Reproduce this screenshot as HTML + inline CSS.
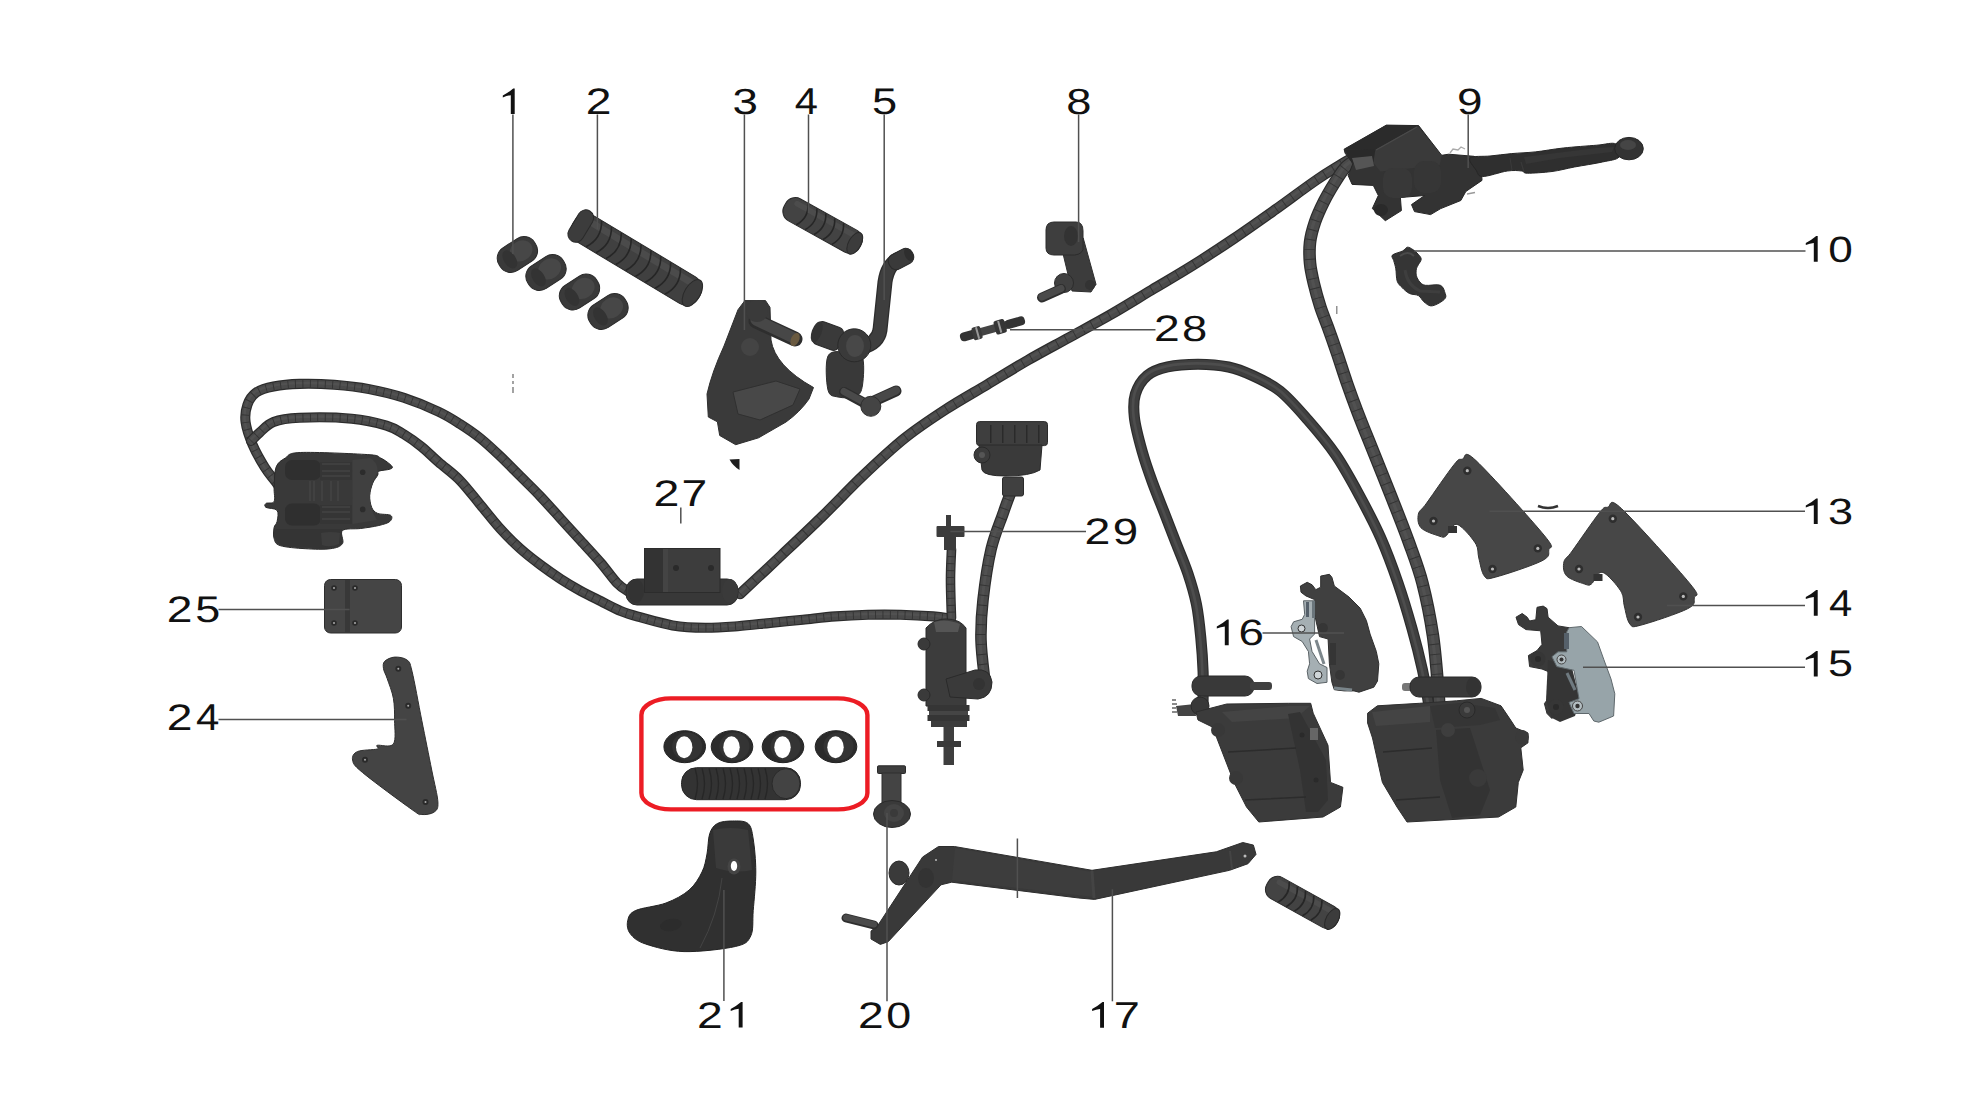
<!DOCTYPE html>
<html><head><meta charset="utf-8"><style>
html,body{margin:0;padding:0;background:#fff;width:1965px;height:1093px;overflow:hidden}
svg{position:absolute;left:0;top:0;display:block}
text{font-family:"Liberation Sans",sans-serif;text-rendering:geometricPrecision}
</style></head><body>
<svg width="1965" height="1093" viewBox="0 0 1965 1093">
<rect width="1965" height="1093" fill="#fff"/>
<path d="M284.0,494.0 C282.5,491.9 278.4,485.7 275.2,481.3 C272.0,476.9 268.6,473.5 264.8,467.4 C261.0,461.3 255.8,452.3 252.6,444.8 C249.4,437.3 246.5,428.9 245.6,422.2 C244.7,415.5 245.7,409.7 247.4,404.8 C249.1,399.9 251.7,395.7 256.0,392.6 C260.4,389.6 266.2,387.9 273.5,386.5 C280.8,385.1 289.4,384.2 299.5,383.9 C309.6,383.6 322.7,383.9 334.3,384.8 C345.9,385.7 357.5,386.9 369.1,389.1 C380.7,391.3 392.3,394.0 403.9,397.8 C415.5,401.6 429.2,407.3 438.6,411.7 C448.0,416.1 453.1,419.6 460.0,424.0 C466.9,428.4 473.4,432.7 480.1,438.1 C486.8,443.5 493.5,449.8 500.2,456.2 C506.9,462.6 513.7,469.6 520.4,476.3 C527.1,483.0 533.8,489.4 540.5,496.5 C547.2,503.6 553.9,511.2 560.6,518.6 C567.3,526.0 574.0,533.3 580.7,540.7 C587.4,548.1 594.8,555.9 600.8,562.9 C606.8,569.9 612.3,578.1 617.0,583.0 C621.7,587.9 627.0,590.5 629.0,592.0" fill="none" stroke="#2c2c2c" stroke-width="10.1" stroke-linecap="round" stroke-linejoin="round"/><path d="M284.0,494.0 C282.5,491.9 278.4,485.7 275.2,481.3 C272.0,476.9 268.6,473.5 264.8,467.4 C261.0,461.3 255.8,452.3 252.6,444.8 C249.4,437.3 246.5,428.9 245.6,422.2 C244.7,415.5 245.7,409.7 247.4,404.8 C249.1,399.9 251.7,395.7 256.0,392.6 C260.4,389.6 266.2,387.9 273.5,386.5 C280.8,385.1 289.4,384.2 299.5,383.9 C309.6,383.6 322.7,383.9 334.3,384.8 C345.9,385.7 357.5,386.9 369.1,389.1 C380.7,391.3 392.3,394.0 403.9,397.8 C415.5,401.6 429.2,407.3 438.6,411.7 C448.0,416.1 453.1,419.6 460.0,424.0 C466.9,428.4 473.4,432.7 480.1,438.1 C486.8,443.5 493.5,449.8 500.2,456.2 C506.9,462.6 513.7,469.6 520.4,476.3 C527.1,483.0 533.8,489.4 540.5,496.5 C547.2,503.6 553.9,511.2 560.6,518.6 C567.3,526.0 574.0,533.3 580.7,540.7 C587.4,548.1 594.8,555.9 600.8,562.9 C606.8,569.9 612.3,578.1 617.0,583.0 C621.7,587.9 627.0,590.5 629.0,592.0" fill="none" stroke="#4a4a4a" stroke-width="7.7" stroke-linecap="round" stroke-linejoin="round"/><path d="M284.0,494.0 C282.5,491.9 278.4,485.7 275.2,481.3 C272.0,476.9 268.6,473.5 264.8,467.4 C261.0,461.3 255.8,452.3 252.6,444.8 C249.4,437.3 246.5,428.9 245.6,422.2 C244.7,415.5 245.7,409.7 247.4,404.8 C249.1,399.9 251.7,395.7 256.0,392.6 C260.4,389.6 266.2,387.9 273.5,386.5 C280.8,385.1 289.4,384.2 299.5,383.9 C309.6,383.6 322.7,383.9 334.3,384.8 C345.9,385.7 357.5,386.9 369.1,389.1 C380.7,391.3 392.3,394.0 403.9,397.8 C415.5,401.6 429.2,407.3 438.6,411.7 C448.0,416.1 453.1,419.6 460.0,424.0 C466.9,428.4 473.4,432.7 480.1,438.1 C486.8,443.5 493.5,449.8 500.2,456.2 C506.9,462.6 513.7,469.6 520.4,476.3 C527.1,483.0 533.8,489.4 540.5,496.5 C547.2,503.6 553.9,511.2 560.6,518.6 C567.3,526.0 574.0,533.3 580.7,540.7 C587.4,548.1 594.8,555.9 600.8,562.9 C606.8,569.9 612.3,578.1 617.0,583.0 C621.7,587.9 627.0,590.5 629.0,592.0" fill="none" stroke="#575757" stroke-width="2.4" stroke-linecap="round" opacity="0.6" transform="translate(-0.8,-0.8)"/><path d="M284.0,494.0 C282.5,491.9 278.4,485.7 275.2,481.3 C272.0,476.9 268.6,473.5 264.8,467.4 C261.0,461.3 255.8,452.3 252.6,444.8 C249.4,437.3 246.5,428.9 245.6,422.2 C244.7,415.5 245.7,409.7 247.4,404.8 C249.1,399.9 251.7,395.7 256.0,392.6 C260.4,389.6 266.2,387.9 273.5,386.5 C280.8,385.1 289.4,384.2 299.5,383.9 C309.6,383.6 322.7,383.9 334.3,384.8 C345.9,385.7 357.5,386.9 369.1,389.1 C380.7,391.3 392.3,394.0 403.9,397.8 C415.5,401.6 429.2,407.3 438.6,411.7 C448.0,416.1 453.1,419.6 460.0,424.0 C466.9,428.4 473.4,432.7 480.1,438.1 C486.8,443.5 493.5,449.8 500.2,456.2 C506.9,462.6 513.7,469.6 520.4,476.3 C527.1,483.0 533.8,489.4 540.5,496.5 C547.2,503.6 553.9,511.2 560.6,518.6 C567.3,526.0 574.0,533.3 580.7,540.7 C587.4,548.1 594.8,555.9 600.8,562.9 C606.8,569.9 612.3,578.1 617.0,583.0 C621.7,587.9 627.0,590.5 629.0,592.0" fill="none" stroke="#333" stroke-width="8.5" stroke-dasharray="0.9 6.5"/><path d="M251.0,441.0 C252.4,439.6 255.9,435.8 259.6,432.6 C263.4,429.4 266.9,424.5 273.5,422.0 C280.1,419.5 286.5,418.4 299.5,417.8 C312.5,417.2 337.2,417.4 351.7,418.7 C366.2,420.0 377.8,423.0 386.5,425.6 C395.2,428.2 398.1,430.8 403.9,434.3 C409.7,437.8 415.4,441.9 421.2,446.5 C427.0,451.1 432.1,456.5 438.6,462.1 C445.1,467.8 453.1,473.3 460.0,480.4 C466.9,487.5 473.4,496.4 480.1,504.5 C486.8,512.5 493.5,521.3 500.2,528.7 C506.9,536.1 513.7,542.8 520.4,548.8 C527.1,554.8 533.8,559.9 540.5,564.9 C547.2,569.9 553.9,574.6 560.6,579.0 C567.3,583.4 574.0,587.3 580.7,591.0 C587.4,594.7 594.1,597.8 600.8,601.1 C607.5,604.5 614.5,608.4 621.0,611.1 C627.5,613.8 631.4,614.8 640.0,617.2 C648.6,619.6 661.8,623.6 672.6,625.4 C683.5,627.2 694.2,627.7 705.1,627.8 C716.0,627.9 726.8,627.0 737.7,626.2 C748.6,625.4 759.4,624.0 770.3,622.9 C781.2,621.8 792.0,620.8 802.9,619.7 C813.8,618.6 824.5,617.2 835.4,616.4 C846.2,615.6 857.1,615.1 868.0,614.8 C878.9,614.5 889.7,614.5 900.6,614.8 C911.5,615.1 925.0,615.8 933.2,616.4 C941.4,617.0 947.2,618.1 950.0,618.5" fill="none" stroke="#2c2c2c" stroke-width="10.1" stroke-linecap="round" stroke-linejoin="round"/><path d="M251.0,441.0 C252.4,439.6 255.9,435.8 259.6,432.6 C263.4,429.4 266.9,424.5 273.5,422.0 C280.1,419.5 286.5,418.4 299.5,417.8 C312.5,417.2 337.2,417.4 351.7,418.7 C366.2,420.0 377.8,423.0 386.5,425.6 C395.2,428.2 398.1,430.8 403.9,434.3 C409.7,437.8 415.4,441.9 421.2,446.5 C427.0,451.1 432.1,456.5 438.6,462.1 C445.1,467.8 453.1,473.3 460.0,480.4 C466.9,487.5 473.4,496.4 480.1,504.5 C486.8,512.5 493.5,521.3 500.2,528.7 C506.9,536.1 513.7,542.8 520.4,548.8 C527.1,554.8 533.8,559.9 540.5,564.9 C547.2,569.9 553.9,574.6 560.6,579.0 C567.3,583.4 574.0,587.3 580.7,591.0 C587.4,594.7 594.1,597.8 600.8,601.1 C607.5,604.5 614.5,608.4 621.0,611.1 C627.5,613.8 631.4,614.8 640.0,617.2 C648.6,619.6 661.8,623.6 672.6,625.4 C683.5,627.2 694.2,627.7 705.1,627.8 C716.0,627.9 726.8,627.0 737.7,626.2 C748.6,625.4 759.4,624.0 770.3,622.9 C781.2,621.8 792.0,620.8 802.9,619.7 C813.8,618.6 824.5,617.2 835.4,616.4 C846.2,615.6 857.1,615.1 868.0,614.8 C878.9,614.5 889.7,614.5 900.6,614.8 C911.5,615.1 925.0,615.8 933.2,616.4 C941.4,617.0 947.2,618.1 950.0,618.5" fill="none" stroke="#4a4a4a" stroke-width="7.7" stroke-linecap="round" stroke-linejoin="round"/><path d="M251.0,441.0 C252.4,439.6 255.9,435.8 259.6,432.6 C263.4,429.4 266.9,424.5 273.5,422.0 C280.1,419.5 286.5,418.4 299.5,417.8 C312.5,417.2 337.2,417.4 351.7,418.7 C366.2,420.0 377.8,423.0 386.5,425.6 C395.2,428.2 398.1,430.8 403.9,434.3 C409.7,437.8 415.4,441.9 421.2,446.5 C427.0,451.1 432.1,456.5 438.6,462.1 C445.1,467.8 453.1,473.3 460.0,480.4 C466.9,487.5 473.4,496.4 480.1,504.5 C486.8,512.5 493.5,521.3 500.2,528.7 C506.9,536.1 513.7,542.8 520.4,548.8 C527.1,554.8 533.8,559.9 540.5,564.9 C547.2,569.9 553.9,574.6 560.6,579.0 C567.3,583.4 574.0,587.3 580.7,591.0 C587.4,594.7 594.1,597.8 600.8,601.1 C607.5,604.5 614.5,608.4 621.0,611.1 C627.5,613.8 631.4,614.8 640.0,617.2 C648.6,619.6 661.8,623.6 672.6,625.4 C683.5,627.2 694.2,627.7 705.1,627.8 C716.0,627.9 726.8,627.0 737.7,626.2 C748.6,625.4 759.4,624.0 770.3,622.9 C781.2,621.8 792.0,620.8 802.9,619.7 C813.8,618.6 824.5,617.2 835.4,616.4 C846.2,615.6 857.1,615.1 868.0,614.8 C878.9,614.5 889.7,614.5 900.6,614.8 C911.5,615.1 925.0,615.8 933.2,616.4 C941.4,617.0 947.2,618.1 950.0,618.5" fill="none" stroke="#575757" stroke-width="2.4" stroke-linecap="round" opacity="0.6" transform="translate(-0.8,-0.8)"/><path d="M251.0,441.0 C252.4,439.6 255.9,435.8 259.6,432.6 C263.4,429.4 266.9,424.5 273.5,422.0 C280.1,419.5 286.5,418.4 299.5,417.8 C312.5,417.2 337.2,417.4 351.7,418.7 C366.2,420.0 377.8,423.0 386.5,425.6 C395.2,428.2 398.1,430.8 403.9,434.3 C409.7,437.8 415.4,441.9 421.2,446.5 C427.0,451.1 432.1,456.5 438.6,462.1 C445.1,467.8 453.1,473.3 460.0,480.4 C466.9,487.5 473.4,496.4 480.1,504.5 C486.8,512.5 493.5,521.3 500.2,528.7 C506.9,536.1 513.7,542.8 520.4,548.8 C527.1,554.8 533.8,559.9 540.5,564.9 C547.2,569.9 553.9,574.6 560.6,579.0 C567.3,583.4 574.0,587.3 580.7,591.0 C587.4,594.7 594.1,597.8 600.8,601.1 C607.5,604.5 614.5,608.4 621.0,611.1 C627.5,613.8 631.4,614.8 640.0,617.2 C648.6,619.6 661.8,623.6 672.6,625.4 C683.5,627.2 694.2,627.7 705.1,627.8 C716.0,627.9 726.8,627.0 737.7,626.2 C748.6,625.4 759.4,624.0 770.3,622.9 C781.2,621.8 792.0,620.8 802.9,619.7 C813.8,618.6 824.5,617.2 835.4,616.4 C846.2,615.6 857.1,615.1 868.0,614.8 C878.9,614.5 889.7,614.5 900.6,614.8 C911.5,615.1 925.0,615.8 933.2,616.4 C941.4,617.0 947.2,618.1 950.0,618.5" fill="none" stroke="#333" stroke-width="8.5" stroke-dasharray="0.9 6.5"/><path d="M740.0,594.0 C746.9,587.6 767.5,568.4 781.2,555.5 C794.9,542.6 808.6,529.8 822.3,516.4 C836.0,503.0 849.8,488.2 863.5,475.2 C877.2,462.2 891.0,449.2 904.7,438.2 C918.4,427.2 932.1,418.3 945.8,409.4 C959.5,400.5 973.3,392.9 987.0,384.7 C1000.7,376.5 1014.5,367.9 1028.2,360.0 C1041.9,352.1 1055.7,344.9 1069.4,337.3 C1083.1,329.8 1096.8,322.6 1110.5,314.7 C1124.2,306.8 1138.0,298.2 1151.7,290.0 C1165.4,281.8 1179.2,273.9 1192.9,265.3 C1206.6,256.7 1220.3,247.8 1234.0,238.5 C1247.7,229.2 1261.5,219.4 1275.2,209.7 C1288.9,199.9 1305.6,187.4 1316.4,180.0 C1327.2,172.6 1334.1,168.7 1340.0,165.0 C1345.9,161.3 1350.0,159.2 1352.0,158.0" fill="none" stroke="#2c2c2c" stroke-width="10.6" stroke-linecap="round" stroke-linejoin="round"/><path d="M740.0,594.0 C746.9,587.6 767.5,568.4 781.2,555.5 C794.9,542.6 808.6,529.8 822.3,516.4 C836.0,503.0 849.8,488.2 863.5,475.2 C877.2,462.2 891.0,449.2 904.7,438.2 C918.4,427.2 932.1,418.3 945.8,409.4 C959.5,400.5 973.3,392.9 987.0,384.7 C1000.7,376.5 1014.5,367.9 1028.2,360.0 C1041.9,352.1 1055.7,344.9 1069.4,337.3 C1083.1,329.8 1096.8,322.6 1110.5,314.7 C1124.2,306.8 1138.0,298.2 1151.7,290.0 C1165.4,281.8 1179.2,273.9 1192.9,265.3 C1206.6,256.7 1220.3,247.8 1234.0,238.5 C1247.7,229.2 1261.5,219.4 1275.2,209.7 C1288.9,199.9 1305.6,187.4 1316.4,180.0 C1327.2,172.6 1334.1,168.7 1340.0,165.0 C1345.9,161.3 1350.0,159.2 1352.0,158.0" fill="none" stroke="#4a4a4a" stroke-width="8.2" stroke-linecap="round" stroke-linejoin="round"/><path d="M740.0,594.0 C746.9,587.6 767.5,568.4 781.2,555.5 C794.9,542.6 808.6,529.8 822.3,516.4 C836.0,503.0 849.8,488.2 863.5,475.2 C877.2,462.2 891.0,449.2 904.7,438.2 C918.4,427.2 932.1,418.3 945.8,409.4 C959.5,400.5 973.3,392.9 987.0,384.7 C1000.7,376.5 1014.5,367.9 1028.2,360.0 C1041.9,352.1 1055.7,344.9 1069.4,337.3 C1083.1,329.8 1096.8,322.6 1110.5,314.7 C1124.2,306.8 1138.0,298.2 1151.7,290.0 C1165.4,281.8 1179.2,273.9 1192.9,265.3 C1206.6,256.7 1220.3,247.8 1234.0,238.5 C1247.7,229.2 1261.5,219.4 1275.2,209.7 C1288.9,199.9 1305.6,187.4 1316.4,180.0 C1327.2,172.6 1334.1,168.7 1340.0,165.0 C1345.9,161.3 1350.0,159.2 1352.0,158.0" fill="none" stroke="#575757" stroke-width="2.6" stroke-linecap="round" opacity="0.6" transform="translate(-0.8,-0.8)"/><path d="M740.0,594.0 C746.9,587.6 767.5,568.4 781.2,555.5 C794.9,542.6 808.6,529.8 822.3,516.4 C836.0,503.0 849.8,488.2 863.5,475.2 C877.2,462.2 891.0,449.2 904.7,438.2 C918.4,427.2 932.1,418.3 945.8,409.4 C959.5,400.5 973.3,392.9 987.0,384.7 C1000.7,376.5 1014.5,367.9 1028.2,360.0 C1041.9,352.1 1055.7,344.9 1069.4,337.3 C1083.1,329.8 1096.8,322.6 1110.5,314.7 C1124.2,306.8 1138.0,298.2 1151.7,290.0 C1165.4,281.8 1179.2,273.9 1192.9,265.3 C1206.6,256.7 1220.3,247.8 1234.0,238.5 C1247.7,229.2 1261.5,219.4 1275.2,209.7 C1288.9,199.9 1305.6,187.4 1316.4,180.0 C1327.2,172.6 1334.1,168.7 1340.0,165.0 C1345.9,161.3 1350.0,159.2 1352.0,158.0" fill="none" stroke="#333" stroke-width="9.0" stroke-dasharray="0.9 9.0"/><path d="M1352.0,162.0 C1350.8,163.0 1347.5,164.6 1344.5,168.2 C1341.5,171.8 1337.6,178.0 1334.2,183.5 C1330.8,189.0 1327.2,195.0 1324.0,201.4 C1320.8,207.8 1317.3,215.2 1315.0,222.0 C1312.7,228.8 1310.8,235.6 1310.0,242.4 C1309.2,249.2 1309.4,256.1 1310.0,262.9 C1310.6,269.7 1312.1,276.1 1313.8,283.4 C1315.5,290.6 1317.9,299.1 1320.2,306.4 C1322.5,313.6 1325.0,319.2 1327.8,326.9 C1330.6,334.6 1333.6,343.1 1336.8,352.5 C1340.0,361.9 1343.6,373.4 1347.0,383.2 C1350.4,393.0 1353.4,401.2 1357.3,411.4 C1361.2,421.6 1364.6,430.0 1370.3,444.2 C1376.0,458.4 1384.8,480.2 1391.2,496.4 C1397.6,512.6 1403.4,527.0 1408.6,541.5 C1413.8,556.0 1418.5,567.6 1422.5,583.2 C1426.5,598.8 1430.3,617.9 1432.9,635.3 C1435.5,652.7 1437.0,675.0 1438.1,687.5 C1439.2,700.0 1439.3,706.2 1439.5,710.0" fill="none" stroke="#2c2c2c" stroke-width="12.6" stroke-linecap="round" stroke-linejoin="round"/><path d="M1352.0,162.0 C1350.8,163.0 1347.5,164.6 1344.5,168.2 C1341.5,171.8 1337.6,178.0 1334.2,183.5 C1330.8,189.0 1327.2,195.0 1324.0,201.4 C1320.8,207.8 1317.3,215.2 1315.0,222.0 C1312.7,228.8 1310.8,235.6 1310.0,242.4 C1309.2,249.2 1309.4,256.1 1310.0,262.9 C1310.6,269.7 1312.1,276.1 1313.8,283.4 C1315.5,290.6 1317.9,299.1 1320.2,306.4 C1322.5,313.6 1325.0,319.2 1327.8,326.9 C1330.6,334.6 1333.6,343.1 1336.8,352.5 C1340.0,361.9 1343.6,373.4 1347.0,383.2 C1350.4,393.0 1353.4,401.2 1357.3,411.4 C1361.2,421.6 1364.6,430.0 1370.3,444.2 C1376.0,458.4 1384.8,480.2 1391.2,496.4 C1397.6,512.6 1403.4,527.0 1408.6,541.5 C1413.8,556.0 1418.5,567.6 1422.5,583.2 C1426.5,598.8 1430.3,617.9 1432.9,635.3 C1435.5,652.7 1437.0,675.0 1438.1,687.5 C1439.2,700.0 1439.3,706.2 1439.5,710.0" fill="none" stroke="#4a4a4a" stroke-width="10.2" stroke-linecap="round" stroke-linejoin="round"/><path d="M1352.0,162.0 C1350.8,163.0 1347.5,164.6 1344.5,168.2 C1341.5,171.8 1337.6,178.0 1334.2,183.5 C1330.8,189.0 1327.2,195.0 1324.0,201.4 C1320.8,207.8 1317.3,215.2 1315.0,222.0 C1312.7,228.8 1310.8,235.6 1310.0,242.4 C1309.2,249.2 1309.4,256.1 1310.0,262.9 C1310.6,269.7 1312.1,276.1 1313.8,283.4 C1315.5,290.6 1317.9,299.1 1320.2,306.4 C1322.5,313.6 1325.0,319.2 1327.8,326.9 C1330.6,334.6 1333.6,343.1 1336.8,352.5 C1340.0,361.9 1343.6,373.4 1347.0,383.2 C1350.4,393.0 1353.4,401.2 1357.3,411.4 C1361.2,421.6 1364.6,430.0 1370.3,444.2 C1376.0,458.4 1384.8,480.2 1391.2,496.4 C1397.6,512.6 1403.4,527.0 1408.6,541.5 C1413.8,556.0 1418.5,567.6 1422.5,583.2 C1426.5,598.8 1430.3,617.9 1432.9,635.3 C1435.5,652.7 1437.0,675.0 1438.1,687.5 C1439.2,700.0 1439.3,706.2 1439.5,710.0" fill="none" stroke="#575757" stroke-width="3.1" stroke-linecap="round" opacity="0.6" transform="translate(-0.8,-0.8)"/><path d="M1352.0,162.0 C1350.8,163.0 1347.5,164.6 1344.5,168.2 C1341.5,171.8 1337.6,178.0 1334.2,183.5 C1330.8,189.0 1327.2,195.0 1324.0,201.4 C1320.8,207.8 1317.3,215.2 1315.0,222.0 C1312.7,228.8 1310.8,235.6 1310.0,242.4 C1309.2,249.2 1309.4,256.1 1310.0,262.9 C1310.6,269.7 1312.1,276.1 1313.8,283.4 C1315.5,290.6 1317.9,299.1 1320.2,306.4 C1322.5,313.6 1325.0,319.2 1327.8,326.9 C1330.6,334.6 1333.6,343.1 1336.8,352.5 C1340.0,361.9 1343.6,373.4 1347.0,383.2 C1350.4,393.0 1353.4,401.2 1357.3,411.4 C1361.2,421.6 1364.6,430.0 1370.3,444.2 C1376.0,458.4 1384.8,480.2 1391.2,496.4 C1397.6,512.6 1403.4,527.0 1408.6,541.5 C1413.8,556.0 1418.5,567.6 1422.5,583.2 C1426.5,598.8 1430.3,617.9 1432.9,635.3 C1435.5,652.7 1437.0,675.0 1438.1,687.5 C1439.2,700.0 1439.3,706.2 1439.5,710.0" fill="none" stroke="#333" stroke-width="11.0" stroke-dasharray="0.9 9.0"/><path d="M1203.0,706.0 C1203.0,700.3 1203.5,683.1 1203.1,671.7 C1202.7,660.3 1201.9,649.1 1200.8,637.8 C1199.7,626.5 1198.6,614.7 1196.4,604.0 C1194.2,593.3 1191.3,583.7 1187.9,573.5 C1184.5,563.3 1180.0,553.2 1176.0,543.0 C1172.0,532.8 1168.2,522.7 1164.2,512.5 C1160.2,502.3 1156.0,492.1 1152.3,482.0 C1148.6,471.9 1145.2,462.3 1142.2,451.6 C1139.2,440.9 1135.5,427.3 1134.4,417.7 C1133.3,408.1 1133.2,401.1 1135.4,394.0 C1137.6,386.9 1141.9,379.9 1147.3,375.4 C1152.7,370.9 1159.1,368.8 1167.6,366.9 C1176.0,365.0 1187.8,364.2 1198.0,364.2 C1208.2,364.2 1219.5,365.1 1228.5,367.0 C1237.5,368.9 1243.6,371.4 1252.2,375.4 C1260.8,379.4 1270.7,383.6 1280.0,391.0 C1289.3,398.4 1298.5,409.3 1307.8,419.9 C1317.1,430.5 1326.9,441.9 1335.6,454.7 C1344.3,467.4 1352.4,482.5 1359.9,496.4 C1367.4,510.3 1374.4,523.5 1380.8,538.0 C1387.2,552.5 1392.9,568.1 1398.1,583.2 C1403.3,598.3 1407.9,613.9 1412.0,628.4 C1416.1,642.9 1419.6,656.8 1422.5,670.1 C1425.4,683.4 1428.2,701.9 1429.4,708.3" fill="none" stroke="#2c2c2c" stroke-width="11.1" stroke-linecap="round" stroke-linejoin="round"/><path d="M1203.0,706.0 C1203.0,700.3 1203.5,683.1 1203.1,671.7 C1202.7,660.3 1201.9,649.1 1200.8,637.8 C1199.7,626.5 1198.6,614.7 1196.4,604.0 C1194.2,593.3 1191.3,583.7 1187.9,573.5 C1184.5,563.3 1180.0,553.2 1176.0,543.0 C1172.0,532.8 1168.2,522.7 1164.2,512.5 C1160.2,502.3 1156.0,492.1 1152.3,482.0 C1148.6,471.9 1145.2,462.3 1142.2,451.6 C1139.2,440.9 1135.5,427.3 1134.4,417.7 C1133.3,408.1 1133.2,401.1 1135.4,394.0 C1137.6,386.9 1141.9,379.9 1147.3,375.4 C1152.7,370.9 1159.1,368.8 1167.6,366.9 C1176.0,365.0 1187.8,364.2 1198.0,364.2 C1208.2,364.2 1219.5,365.1 1228.5,367.0 C1237.5,368.9 1243.6,371.4 1252.2,375.4 C1260.8,379.4 1270.7,383.6 1280.0,391.0 C1289.3,398.4 1298.5,409.3 1307.8,419.9 C1317.1,430.5 1326.9,441.9 1335.6,454.7 C1344.3,467.4 1352.4,482.5 1359.9,496.4 C1367.4,510.3 1374.4,523.5 1380.8,538.0 C1387.2,552.5 1392.9,568.1 1398.1,583.2 C1403.3,598.3 1407.9,613.9 1412.0,628.4 C1416.1,642.9 1419.6,656.8 1422.5,670.1 C1425.4,683.4 1428.2,701.9 1429.4,708.3" fill="none" stroke="#3f3f3f" stroke-width="8.7" stroke-linecap="round" stroke-linejoin="round"/><path d="M1203.0,706.0 C1203.0,700.3 1203.5,683.1 1203.1,671.7 C1202.7,660.3 1201.9,649.1 1200.8,637.8 C1199.7,626.5 1198.6,614.7 1196.4,604.0 C1194.2,593.3 1191.3,583.7 1187.9,573.5 C1184.5,563.3 1180.0,553.2 1176.0,543.0 C1172.0,532.8 1168.2,522.7 1164.2,512.5 C1160.2,502.3 1156.0,492.1 1152.3,482.0 C1148.6,471.9 1145.2,462.3 1142.2,451.6 C1139.2,440.9 1135.5,427.3 1134.4,417.7 C1133.3,408.1 1133.2,401.1 1135.4,394.0 C1137.6,386.9 1141.9,379.9 1147.3,375.4 C1152.7,370.9 1159.1,368.8 1167.6,366.9 C1176.0,365.0 1187.8,364.2 1198.0,364.2 C1208.2,364.2 1219.5,365.1 1228.5,367.0 C1237.5,368.9 1243.6,371.4 1252.2,375.4 C1260.8,379.4 1270.7,383.6 1280.0,391.0 C1289.3,398.4 1298.5,409.3 1307.8,419.9 C1317.1,430.5 1326.9,441.9 1335.6,454.7 C1344.3,467.4 1352.4,482.5 1359.9,496.4 C1367.4,510.3 1374.4,523.5 1380.8,538.0 C1387.2,552.5 1392.9,568.1 1398.1,583.2 C1403.3,598.3 1407.9,613.9 1412.0,628.4 C1416.1,642.9 1419.6,656.8 1422.5,670.1 C1425.4,683.4 1428.2,701.9 1429.4,708.3" fill="none" stroke="#575757" stroke-width="2.7" stroke-linecap="round" opacity="0.6" transform="translate(-0.8,-0.8)"/><path d="M1011.7,490.0 C1010.3,493.7 1006.9,502.4 1003.5,512.3 C1000.1,522.2 994.5,534.7 991.1,549.3 C987.7,563.9 984.7,584.9 983.0,600.0 C981.3,615.1 980.7,626.3 981.0,640.0 C981.3,653.7 984.3,675.0 985.0,682.0" fill="none" stroke="#2c2c2c" stroke-width="11.6" stroke-linecap="round" stroke-linejoin="round"/><path d="M1011.7,490.0 C1010.3,493.7 1006.9,502.4 1003.5,512.3 C1000.1,522.2 994.5,534.7 991.1,549.3 C987.7,563.9 984.7,584.9 983.0,600.0 C981.3,615.1 980.7,626.3 981.0,640.0 C981.3,653.7 984.3,675.0 985.0,682.0" fill="none" stroke="#4a4a4a" stroke-width="9.2" stroke-linecap="round" stroke-linejoin="round"/><path d="M1011.7,490.0 C1010.3,493.7 1006.9,502.4 1003.5,512.3 C1000.1,522.2 994.5,534.7 991.1,549.3 C987.7,563.9 984.7,584.9 983.0,600.0 C981.3,615.1 980.7,626.3 981.0,640.0 C981.3,653.7 984.3,675.0 985.0,682.0" fill="none" stroke="#575757" stroke-width="2.9" stroke-linecap="round" opacity="0.6" transform="translate(-0.8,-0.8)"/><path d="M1011.7,490.0 C1010.3,493.7 1006.9,502.4 1003.5,512.3 C1000.1,522.2 994.5,534.7 991.1,549.3 C987.7,563.9 984.7,584.9 983.0,600.0 C981.3,615.1 980.7,626.3 981.0,640.0 C981.3,653.7 984.3,675.0 985.0,682.0" fill="none" stroke="#333" stroke-width="10.0" stroke-dasharray="0.9 9.0"/><path d="M951.5,549.5 C951.3,554.6 950.5,568.6 950.5,580.0 C950.5,591.4 951.3,611.7 951.5,618.0" fill="none" stroke="#2c2c2c" stroke-width="9.6" stroke-linecap="round" stroke-linejoin="round"/><path d="M951.5,549.5 C951.3,554.6 950.5,568.6 950.5,580.0 C950.5,591.4 951.3,611.7 951.5,618.0" fill="none" stroke="#4a4a4a" stroke-width="7.2" stroke-linecap="round" stroke-linejoin="round"/><path d="M951.5,549.5 C951.3,554.6 950.5,568.6 950.5,580.0 C950.5,591.4 951.3,611.7 951.5,618.0" fill="none" stroke="#575757" stroke-width="2.3" stroke-linecap="round" opacity="0.6" transform="translate(-0.8,-0.8)"/><path d="M951.5,549.5 C951.3,554.6 950.5,568.6 950.5,580.0 C950.5,591.4 951.3,611.7 951.5,618.0" fill="none" stroke="#333" stroke-width="8.0" stroke-dasharray="0.9 6.0"/>
<g transform="translate(517.4,254.5) rotate(-33)"><rect x="-21" y="-13.5" width="42" height="27" rx="12.5" fill="#3a3a3a" stroke="#2a2a2a" stroke-width="1"/><ellipse cx="5" cy="-1" rx="12" ry="10" fill="#474747"/><ellipse cx="-9" cy="0" rx="6" ry="10" fill="#333"/></g><g transform="translate(546.0,272.5) rotate(-33)"><rect x="-21" y="-13.5" width="42" height="27" rx="12.5" fill="#3a3a3a" stroke="#2a2a2a" stroke-width="1"/><ellipse cx="5" cy="-1" rx="12" ry="10" fill="#474747"/><ellipse cx="-9" cy="0" rx="6" ry="10" fill="#333"/></g><g transform="translate(579.5,292.0) rotate(-33)"><rect x="-21" y="-13.5" width="42" height="27" rx="12.5" fill="#3a3a3a" stroke="#2a2a2a" stroke-width="1"/><ellipse cx="5" cy="-1" rx="12" ry="10" fill="#474747"/><ellipse cx="-9" cy="0" rx="6" ry="10" fill="#333"/></g><g transform="translate(608.0,311.5) rotate(-33)"><rect x="-21" y="-13.5" width="42" height="27" rx="12.5" fill="#3a3a3a" stroke="#2a2a2a" stroke-width="1"/><ellipse cx="5" cy="-1" rx="12" ry="10" fill="#474747"/><ellipse cx="-9" cy="0" rx="6" ry="10" fill="#333"/></g><g transform="translate(636.5,259.5) rotate(31.0)"><rect x="-73.0" y="-15.5" width="146.0" height="31.0" rx="13.5" fill="#404040" stroke="#2a2a2a" stroke-width="1"/><rect x="-63.7" y="-11.8" width="127.4" height="6.8" rx="3.1" fill="#545454" opacity="0.55"/><path d="M-49.7,-15.0 Q-40.4,0 -49.7,15.0" stroke="#262626" stroke-width="1.6" fill="none"/><path d="M-38.2,-15.0 Q-28.9,0 -38.2,15.0" stroke="#262626" stroke-width="1.6" fill="none"/><path d="M-26.7,-15.0 Q-17.4,0 -26.7,15.0" stroke="#262626" stroke-width="1.6" fill="none"/><path d="M-15.2,-15.0 Q-5.9,0 -15.2,15.0" stroke="#262626" stroke-width="1.6" fill="none"/><path d="M-3.7,-15.0 Q5.6,0 -3.7,15.0" stroke="#262626" stroke-width="1.6" fill="none"/><path d="M7.8,-15.0 Q17.1,0 7.8,15.0" stroke="#262626" stroke-width="1.6" fill="none"/><path d="M19.3,-15.0 Q28.6,0 19.3,15.0" stroke="#262626" stroke-width="1.6" fill="none"/><path d="M30.8,-15.0 Q40.1,0 30.8,15.0" stroke="#262626" stroke-width="1.6" fill="none"/><path d="M42.3,-15.0 Q51.6,0 42.3,15.0" stroke="#262626" stroke-width="1.6" fill="none"/><ellipse cx="65.2" cy="0" rx="7.8" ry="15.0" fill="#3c3c3c" stroke="#2a2a2a" stroke-width="1"/></g><g transform="translate(636.5,259.5) rotate(31)"><rect x="-73" y="-17.5" width="16" height="35" rx="8" fill="#3c3c3c" stroke="#2a2a2a"/></g><g transform="translate(822.6,225.5) rotate(29.0)"><rect x="-43.0" y="-12.5" width="86.0" height="25.0" rx="10.9" fill="#434343" stroke="#2a2a2a" stroke-width="1"/><rect x="-35.5" y="-9.5" width="71.0" height="5.5" rx="2.5" fill="#545454" opacity="0.55"/><path d="M-23.3,-12.0 Q-15.8,0 -23.3,12.0" stroke="#262626" stroke-width="1.6" fill="none"/><path d="M-13.2,-12.0 Q-5.7,0 -13.2,12.0" stroke="#262626" stroke-width="1.6" fill="none"/><path d="M-3.0,-12.0 Q4.5,0 -3.0,12.0" stroke="#262626" stroke-width="1.6" fill="none"/><path d="M7.2,-12.0 Q14.7,0 7.2,12.0" stroke="#262626" stroke-width="1.6" fill="none"/><path d="M17.3,-12.0 Q24.8,0 17.3,12.0" stroke="#262626" stroke-width="1.6" fill="none"/><ellipse cx="36.8" cy="0" rx="6.2" ry="12.0" fill="#3c3c3c" stroke="#2a2a2a" stroke-width="1"/></g><path d="M744.9,300.6 L765.5,300.6 L770,307.4 L771,340 Q775,366 813.5,387.5 L809,399 Q800,412 786,422 L758.6,437.8 L735.7,444.7 L719.7,435.5 L717.4,421.8 L708.3,417 L707,394 Q712,372 724,346 L738,309.7 Z" fill="#3a3a3a" stroke="#2e2e2e" stroke-linejoin="round"/><path d="M733.0,392.0 L776.0,381.0 L800.0,389.0 L793.0,405.0 L760.0,420.0 L738.0,414.0 Z" fill="#484848" stroke="#303030" stroke-width="1" stroke-linejoin="round" /><circle cx="750" cy="347" r="9" fill="#444"/><path d="M756,321 L795,339" stroke="#2e2e2e" stroke-width="15" stroke-linecap="round"/><path d="M756,320 L794,338" stroke="#474747" stroke-width="11" stroke-linecap="round"/><ellipse cx="795" cy="339.5" rx="4" ry="7" fill="#6a5a40" transform="rotate(25 795 339.5)"/><circle cx="757" cy="311" r="11" fill="#3a3a3a"/><path d="M729.5,459.5 L739.5,459 L739.5,470 Q733,466 729.5,459.5 Z" fill="#1e1e1e"/><path d="M902,258 Q888,262 885,282 L880,330 Q878,343 862,347" stroke="#2c2c2c" stroke-width="15" fill="none" stroke-linecap="round"/><path d="M902,258 Q888,262 885,282 L880,330 Q878,343 862,347" stroke="#3e3e3e" stroke-width="12.5" fill="none" stroke-linecap="round"/><g transform="translate(901,259) rotate(-28)"><rect x="-13" y="-8" width="26" height="16" rx="7" fill="#3a3a3a" stroke="#2a2a2a"/><ellipse cx="9" cy="0" rx="4" ry="7" fill="#2e2e2e"/></g><path d="M828.0,356.0 C831.0,349.7 840.3,352.0 846.0,352.0 C851.7,352.0 859.2,350.5 862.0,356.0 C864.8,361.5 863.5,378.3 862.5,385.0 C861.5,391.7 860.1,394.4 856.0,396.4 C851.9,398.4 842.7,398.1 838.0,397.0 C833.3,395.9 829.7,396.8 828.0,390.0 C826.3,383.2 825.0,362.3 828.0,356.0 Z" fill="#393939" stroke="#2e2e2e" stroke-width="1"/><path d="M844,392 L868,405" stroke="#2e2e2e" stroke-width="10" stroke-linecap="round"/><path d="M844,391.5 L868,404.5" stroke="#4a4a4a" stroke-width="7" stroke-linecap="round"/><path d="M874,401 L896,391" stroke="#2e2e2e" stroke-width="11" stroke-linecap="round"/><path d="M874,400.5 L896,390.5" stroke="#484848" stroke-width="8" stroke-linecap="round"/><circle cx="870.8" cy="406.3" r="10" fill="#444" stroke="#2e2e2e"/><g transform="translate(828,336) rotate(20)"><rect x="-14" y="-12" width="28" height="24" rx="6" fill="#3a3a3a" stroke="#2a2a2a"/><ellipse cx="-12" cy="0" rx="5" ry="11" fill="#333"/></g><circle cx="854.3" cy="345.3" r="16.5" fill="#3a3a3a" stroke="#2a2a2a"/><ellipse cx="855" cy="346" rx="9" ry="11" fill="#484848"/><path d="M1065.0,243.0 L1083.2,238.0 L1096.0,284.3 L1091.0,292.0 L1072.0,291.0 L1062.7,252.3 Z" fill="#3c3c3c" stroke="#2e2e2e" stroke-width="1" stroke-linejoin="round" /><path d="M1046,230 Q1046,222 1054,222 L1076,222 Q1083,222 1083,231 L1083,250 Q1080,256 1070,255 L1054,255 Q1046,255 1046,248 Z" fill="#3e3e3e" stroke="#2c2c2c"/><ellipse cx="1071" cy="236" rx="7" ry="10" fill="#333"/><circle cx="1064" cy="283" r="9.5" fill="#404040" stroke="#2c2c2c"/><path d="M1042,297.5 L1061,289" stroke="#2e2e2e" stroke-width="10" stroke-linecap="round"/><path d="M1042,297 L1061,288.5" stroke="#4a4a4a" stroke-width="7" stroke-linecap="round"/><circle cx="1090" cy="285" r="5" fill="#333"/><g transform="translate(992,329) rotate(-15.6)"><rect x="-33" y="-4.5" width="22" height="9" rx="4" fill="#333"/><rect x="-12" y="-4" width="30" height="8" fill="#444"/><rect x="-20" y="-6.5" width="9" height="13" rx="2" fill="#3a3a3a"/><rect x="3" y="-7" width="11" height="14" rx="2" fill="#353535"/><rect x="14" y="-4.5" width="20" height="9" rx="4" fill="#333"/><rect x="-16" y="-6" width="2" height="12" fill="#999"/><rect x="7" y="-6" width="2" height="12" fill="#999"/></g><path d="M1344.1,149.2 L1386.4,125.1 L1418.6,125.6 L1441.7,155.3 L1448.7,154.2 L1473.9,156.3 L1481.0,159.3 L1482.0,180.4 L1465.8,191.5 L1460.8,200.5 L1440.7,208.6 L1430.6,214.6 L1414.5,211.6 L1411.5,204.6 L1424.6,195.5 L1400.4,197.5 L1401.4,210.6 L1385.3,220.7 L1372.3,208.6 L1378.3,195.5 L1373.3,185.4 L1352.1,184.4 L1348.1,175.4 L1353.1,163.3 L1345.1,153.2 Z" fill="#333333" stroke="#262626" stroke-width="1" stroke-linejoin="round" /><path d="M1344.1,149.2 L1386.4,125.1 L1418.6,125.6 L1375.3,150.2 Z" fill="#2b2b2b" stroke="none" stroke-width="1" stroke-linejoin="round" /><path d="M1375.3,149.8 L1417.5,126.1 L1441.7,155.3 L1439.7,165.3 L1380.3,171.4 L1373.3,162.3 Z" fill="#3a3a3a" stroke="none" stroke-width="1" stroke-linejoin="round" /><path d="M1345.0,150.0 L1375.3,149.8 L1373.3,162.3 L1352.1,163.3 Z" fill="#292929" stroke="none" stroke-width="1" stroke-linejoin="round" /><path d="M1376,150 L1417,127" stroke="#4a4a4a" stroke-width="1.2"/><rect x="1383" y="168" width="29" height="30" rx="10" fill="#383838"/><rect x="1414" y="161" width="27" height="32" rx="10" fill="#363636"/><ellipse cx="1381" cy="210" rx="7" ry="6" fill="#2a2a2a"/><path d="M1352,158 L1372,156 L1374,166 L1356,170 Z" fill="#555"/><path d="M1470.0,158.0 C1472.3,155.7 1483.0,156.7 1490.0,156.0 C1497.0,155.3 1504.2,154.3 1511.7,153.6 C1519.2,152.9 1526.6,152.8 1535.2,151.9 C1543.8,151.0 1552.9,149.1 1563.2,148.0 C1573.5,146.9 1588.0,145.9 1596.8,145.2 C1605.6,144.5 1612.3,142.0 1616.0,144.0 C1619.7,146.0 1621.3,154.0 1619.0,157.0 C1616.7,160.0 1609.8,160.3 1602.4,162.0 C1595.0,163.7 1582.8,165.4 1574.4,167.0 C1566.0,168.6 1559.8,170.5 1552.0,171.5 C1544.2,172.5 1532.3,173.3 1527.3,173.2 C1522.2,173.1 1525.0,171.4 1521.7,171.0 C1518.4,170.6 1513.7,170.1 1507.2,171.0 C1500.7,171.9 1487.8,176.7 1482.6,176.5 C1477.4,176.3 1478.1,173.1 1476.0,170.0 C1473.9,166.9 1467.7,160.3 1470.0,158.0 Z" fill="#2f2f2f" stroke="#262626" stroke-width="1"/><path d="M1524.0,157.0 L1596.0,148.0 L1614.0,147.0 L1612.0,152.0 L1560.0,158.0 L1526.0,164.0 Z" fill="#363636" stroke="none" stroke-width="1" stroke-linejoin="round" /><path d="M1521,162 L1524,172" stroke="#3a3a3a" stroke-width="1.2"/><path d="M1510,158 L1512,170" stroke="#3a3a3a" stroke-width="1"/><ellipse cx="1629" cy="148.6" rx="14.3" ry="11.2" fill="#333" stroke="#262626"/><ellipse cx="1628" cy="145" rx="8" ry="5" fill="#454545"/><path d="M1450,153 l3,-4 l5,1 l3,-3 l4,2" stroke="#aaa" stroke-width="1.3" fill="none"/><path d="M1467,194 l8,-1.5" stroke="#999" stroke-width="1.3"/><path d="M1392.4,255.1 C1393.9,253.5 1400.1,252.3 1402.6,251.0 C1405.1,249.7 1405.7,247.4 1407.4,247.2 C1409.1,247.0 1411.1,248.4 1412.9,249.6 C1414.7,250.8 1417.0,252.8 1418.4,254.4 C1419.8,256.0 1421.2,257.5 1421.2,259.2 C1421.2,260.9 1419.2,263.1 1418.4,264.7 C1417.6,266.3 1416.7,267.0 1416.4,268.8 C1416.1,270.6 1415.8,273.5 1416.4,275.7 C1417.0,277.9 1418.3,280.3 1419.8,281.9 C1421.3,283.5 1421.9,284.7 1425.3,285.3 C1428.7,285.9 1437.1,283.9 1440.4,285.3 C1443.7,286.7 1444.4,291.3 1445.2,293.5 C1446.0,295.7 1446.2,296.7 1445.2,298.3 C1444.2,299.9 1441.4,301.8 1439.0,303.1 C1436.6,304.4 1433.3,306.1 1430.8,305.9 C1428.3,305.7 1426.0,303.5 1423.9,301.8 C1421.8,300.1 1420.8,297.0 1418.4,295.6 C1416.0,294.2 1412.1,294.8 1409.5,293.5 C1406.9,292.2 1404.6,290.1 1402.6,288.0 C1400.5,285.9 1398.3,284.4 1397.2,281.2 C1396.1,278.0 1396.4,272.2 1395.8,268.8 C1395.2,265.4 1394.3,262.9 1393.7,260.6 C1393.1,258.3 1390.9,256.7 1392.4,255.1 Z" fill="#353535" stroke="#2a2a2a" stroke-width="1"/><path d="M1400,256 Q1408,250 1414,256" stroke="#4a4a4a" stroke-width="2" fill="none"/><path d="M1405,270 Q1407,285 1420,291 L1440,292" stroke="#3e3e3e" stroke-width="3" fill="none"/>
<path d="M285.2,458.1 C289.2,455.7 286.6,453.1 300.3,452.5 C314.1,451.9 354.3,453.7 367.7,454.6 C381.1,455.5 376.8,456.2 380.8,458.1 C384.8,460.0 390.3,464.2 391.8,466.1 C393.3,468.0 392.0,468.4 389.8,469.2 C387.6,470.0 380.8,470.2 378.8,471.2 C376.8,472.2 378.7,473.2 377.7,475.2 C376.7,477.2 374.0,479.8 372.7,483.2 C371.4,486.6 369.9,491.3 369.7,495.3 C369.5,499.3 370.4,504.4 371.7,507.4 C373.0,510.4 374.5,512.1 377.7,513.4 C380.9,514.7 388.8,514.0 390.8,515.4 C392.8,516.8 391.8,519.8 389.8,521.5 C387.8,523.2 383.7,524.3 378.8,525.5 C373.9,526.7 366.7,527.7 360.6,528.5 C354.6,529.3 345.5,528.0 342.5,530.5 C339.5,533.0 344.5,540.6 342.5,543.6 C340.5,546.6 336.7,547.9 330.5,548.7 C324.3,549.6 313.7,549.2 305.3,548.7 C296.9,548.2 285.3,547.3 280.1,545.6 C274.9,543.9 275.1,541.6 274.1,538.6 C273.1,535.6 273.6,530.4 274.1,527.5 C274.6,524.6 276.6,524.4 277.1,521.5 C277.6,518.6 279.0,512.8 277.1,510.4 C275.2,508.0 267.9,508.6 266.0,507.4 C264.1,506.2 264.6,504.4 266.0,503.4 C267.4,502.4 272.8,504.1 274.1,501.4 C275.5,498.7 273.8,493.0 274.1,487.3 C274.4,481.6 274.2,472.0 276.1,467.1 C278.0,462.2 281.2,460.5 285.2,458.1 Z" fill="#393939" stroke="#2a2a2a" stroke-width="1"/><path d="M352.6,460 L370,458 Q378,462 377.5,472 Q369,488 370,500 Q371,512 377,520 L352.6,524 Z" fill="#404040"/><rect x="285" y="460" width="36" height="20" rx="7" fill="#2f2f2f"/><rect x="285" y="503.5" width="36" height="22" rx="7" fill="#2f2f2f"/><rect x="320" y="462" width="32" height="18" fill="#353535"/><rect x="320" y="505" width="32" height="19" fill="#353535"/><path d="M322,464 H350 M322,471 H350 M322,476 H350 M322,507 H350 M322,512 H350 M322,519 H350" stroke="#4a4a4a" stroke-width="1"/><path d="M310,481 V501 M314,481 V501 M322,481 V501 M331,481 V501 M338,481 V501" stroke="#444" stroke-width="1.5"/><circle cx="362.7" cy="472.2" r="2.8" fill="#2c2c2c"/><circle cx="362.7" cy="509.4" r="2.8" fill="#2c2c2c"/><path d="M276,529 L342,529 L342,544 L330,548.5 L282,546 Q274,540 274,532 Z" fill="#343434"/><path d="M321,533 Q331,531 340,533 L339,544 Q330,548 322,545 Z" fill="#3d3d3d"/><rect x="324.5" y="579.5" width="77" height="53.5" rx="6" fill="#454545" stroke="#2e2e2e"/><rect x="345" y="580" width="5" height="53" fill="#383838"/><circle cx="334" cy="588" r="2.8" fill="#2a2a2a"/><circle cx="334" cy="588" r="1" fill="#aaa"/><circle cx="355" cy="588" r="2.8" fill="#2a2a2a"/><circle cx="355" cy="588" r="1" fill="#aaa"/><circle cx="334" cy="623" r="2.8" fill="#2a2a2a"/><circle cx="334" cy="623" r="1" fill="#aaa"/><circle cx="355" cy="623" r="2.8" fill="#2a2a2a"/><circle cx="355" cy="623" r="1" fill="#aaa"/><path d="M384.7,661.3 C386.6,659.4 390.9,657.3 394.6,657.1 C398.3,656.9 404.1,657.6 407.0,660.0 C409.9,662.4 409.5,661.1 412.0,671.2 C414.5,681.3 418.5,704.1 421.8,720.6 C425.1,737.1 429.0,756.4 431.7,770.0 C434.4,783.6 437.5,795.0 437.9,802.0 C438.3,809.0 436.9,809.9 434.2,812.0 C431.5,814.1 425.5,814.9 421.8,814.5 C418.1,814.1 421.9,816.6 412.0,809.6 C402.1,802.6 372.4,780.8 362.5,772.5 C352.6,764.2 353.4,763.5 352.6,760.0 C351.8,756.5 353.5,753.3 357.6,751.5 C361.7,749.7 374.0,750.0 377.3,749.0 C380.6,748.0 374.6,746.1 377.3,745.3 C380.0,744.5 390.5,748.1 393.4,744.0 C396.3,739.9 394.6,728.2 394.6,720.6 C394.6,713.0 394.6,705.4 393.4,698.4 C392.2,691.4 388.8,683.5 387.2,678.6 C385.6,673.7 383.9,671.6 383.5,668.7 C383.1,665.8 382.8,663.2 384.7,661.3 Z" fill="#444" stroke="#2e2e2e" stroke-width="1"/><circle cx="398.3" cy="668.7" r="3" fill="#2a2a2a"/><circle cx="398.3" cy="668.7" r="1" fill="#aaa"/><circle cx="408.2" cy="705.8" r="3" fill="#2a2a2a"/><circle cx="408.2" cy="705.8" r="1" fill="#aaa"/><circle cx="365.0" cy="759.7" r="3" fill="#2a2a2a"/><circle cx="365.0" cy="759.7" r="1" fill="#aaa"/><circle cx="425.5" cy="802.0" r="3" fill="#2a2a2a"/><circle cx="425.5" cy="802.0" r="1" fill="#aaa"/><rect x="626" y="579" width="112" height="26" rx="11" fill="#383838" stroke="#2a2a2a"/><rect x="644.5" y="548.5" width="75.5" height="44" fill="#3d3d3d" stroke="#2c2c2c"/><rect x="645" y="549" width="18" height="43" fill="#333"/><rect x="663" y="549" width="5" height="43" fill="#444"/><circle cx="676" cy="568" r="3" fill="#2a2a2a"/><circle cx="711" cy="568" r="3" fill="#2a2a2a"/><ellipse cx="636" cy="591" rx="8" ry="12" fill="#333"/><ellipse cx="730" cy="591" rx="8" ry="12" fill="#3a3a3a"/><rect x="976.5" y="421.6" width="71" height="24" rx="3" fill="#3e3e3e" stroke="#2a2a2a"/><rect x="990" y="425" width="1.5" height="18" fill="#2a2a2a"/><rect x="1002" y="425" width="1.5" height="18" fill="#2a2a2a"/><rect x="1014" y="425" width="1.5" height="18" fill="#2a2a2a"/><rect x="1026" y="425" width="1.5" height="18" fill="#2a2a2a"/><rect x="1038" y="425" width="1.5" height="18" fill="#2a2a2a"/><path d="M979,445 L1042,445 L1040,470 Q1030,476 1006,476 Q984,476 982,470 Z" fill="#3a3a3a" stroke="#2a2a2a"/><circle cx="982" cy="455" r="8" fill="#3c3c3c" stroke="#2a2a2a"/><circle cx="982" cy="455" r="3" fill="#555"/><rect x="1002.5" y="477" width="21" height="19" rx="2" fill="#404040" stroke="#2a2a2a"/><rect x="936.5" y="526" width="28" height="11" rx="1" fill="#3c3c3c"/><rect x="946" y="515" width="5" height="12" fill="#3c3c3c"/><rect x="944" y="536" width="12" height="14" fill="#3c3c3c"/><path d="M926,628 Q934,619 946,619 Q960,619 966,628 L966,706 L926,706 Z" fill="#3c3c3c" stroke="#2a2a2a"/><path d="M934,622 Q946,618 960,624 L958,632 L936,632 Z" fill="#555"/><circle cx="924" cy="644" r="6" fill="#3a3a3a" stroke="#2a2a2a"/><circle cx="924" cy="695" r="6" fill="#3a3a3a" stroke="#2a2a2a"/><path d="M946,679 L975,670 Q990,668 992,682 Q992,697 978,699 L950,697 Z" fill="#3a3a3a" stroke="#2a2a2a"/><circle cx="979" cy="684" r="6" fill="#333"/><rect x="927.5" y="705" width="42" height="6" fill="#353535"/><rect x="929" y="711" width="39" height="4" fill="#454545"/><rect x="927.5" y="715" width="42" height="6" fill="#353535"/><rect x="931" y="721" width="36" height="6" fill="#3c3c3c"/><rect x="943.5" y="727" width="10.5" height="38" fill="#3e3e3e"/><rect x="937" y="741" width="24" height="6" fill="#3a3a3a"/><path d="M1462.3,459.2 C1466.0,458.5 1462.3,447.8 1476.0,460.6 C1489.7,473.4 1532.6,521.1 1544.7,536.0 C1556.8,550.9 1549.2,545.7 1548.8,549.8 C1548.3,553.9 1550.9,556.2 1542.0,560.8 C1533.1,565.4 1504.9,574.7 1495.3,577.2 C1485.7,579.7 1487.0,579.1 1484.3,575.9 C1481.5,572.7 1480.2,563.3 1478.8,558.0 C1477.4,552.7 1478.8,549.3 1476.0,544.3 C1473.2,539.3 1466.0,531.0 1462.3,527.8 C1458.6,524.6 1456.7,523.6 1454.0,525.0 C1451.3,526.4 1448.4,534.2 1445.9,536.0 C1443.4,537.8 1443.2,537.4 1439.0,536.0 C1434.8,534.6 1424.4,531.5 1421.0,527.8 C1417.6,524.1 1417.5,518.1 1418.4,514.0 C1419.4,509.9 1420.8,511.2 1426.7,503.0 C1432.6,494.8 1448.1,472.0 1454.0,464.7 C1459.9,457.4 1458.6,459.9 1462.3,459.2 Z" fill="#474747" stroke="#333" stroke-width="1"/><circle cx="1467.3" cy="470.7" r="4.2" fill="#2e2e2e"/><circle cx="1467.3" cy="470.7" r="1.6" fill="#bbb"/><circle cx="1433.5" cy="521.0" r="4.2" fill="#2e2e2e"/><circle cx="1433.5" cy="521.0" r="1.6" fill="#bbb"/><circle cx="1537.8" cy="548.4" r="4.2" fill="#2e2e2e"/><circle cx="1537.8" cy="548.4" r="1.6" fill="#bbb"/><circle cx="1492.5" cy="569.0" r="4.2" fill="#2e2e2e"/><circle cx="1492.5" cy="569.0" r="1.6" fill="#bbb"/><rect x="1448.0" y="526.0" width="9" height="7" fill="#333"/><path d="M1538,506 Q1548,510 1558,506" stroke="#333" stroke-width="2.5" fill="none"/><path d="M1607.8,507.2 C1611.5,506.5 1607.8,495.8 1621.5,508.6 C1635.2,521.4 1678.1,569.1 1690.2,584.0 C1702.3,598.9 1694.8,593.7 1694.3,597.8 C1693.8,601.9 1696.4,604.2 1687.5,608.8 C1678.6,613.4 1650.4,622.7 1640.8,625.2 C1631.2,627.7 1632.5,627.1 1629.8,623.9 C1627.0,620.7 1625.7,611.3 1624.3,606.0 C1622.9,600.7 1624.2,597.3 1621.5,592.3 C1618.8,587.3 1611.5,579.0 1607.8,575.8 C1604.1,572.6 1602.2,571.6 1599.5,573.0 C1596.8,574.4 1593.9,582.2 1591.4,584.0 C1588.9,585.8 1588.7,585.4 1584.5,584.0 C1580.3,582.6 1569.9,579.5 1566.5,575.8 C1563.1,572.1 1563.0,566.1 1563.9,562.0 C1564.9,557.9 1566.3,559.2 1572.2,551.0 C1578.1,542.8 1593.6,520.0 1599.5,512.7 C1605.4,505.4 1604.1,507.9 1607.8,507.2 Z" fill="#474747" stroke="#333" stroke-width="1"/><circle cx="1612.8" cy="518.7" r="4.2" fill="#2e2e2e"/><circle cx="1612.8" cy="518.7" r="1.6" fill="#bbb"/><circle cx="1579.0" cy="569.0" r="4.2" fill="#2e2e2e"/><circle cx="1579.0" cy="569.0" r="1.6" fill="#bbb"/><circle cx="1683.3" cy="596.4" r="4.2" fill="#2e2e2e"/><circle cx="1683.3" cy="596.4" r="1.6" fill="#bbb"/><circle cx="1638.0" cy="617.0" r="4.2" fill="#2e2e2e"/><circle cx="1638.0" cy="617.0" r="1.6" fill="#bbb"/><rect x="1593.5" y="574.0" width="9" height="7" fill="#333"/><path d="M1516.0,617.2 L1522.2,613.5 L1527.2,617.2 L1529.6,621.0 L1535.8,619.7 L1537.0,607.3 L1543.2,606.1 L1547.0,608.6 L1548.1,617.2 L1558.0,625.9 L1569.0,627.7 L1569.0,640.0 L1551.9,718.5 L1547.0,713.5 L1544.4,703.6 L1551.9,693.8 L1548.1,671.5 L1542.0,669.0 L1529.6,666.6 L1528.4,655.5 L1537.0,650.6 L1542.0,644.4 L1540.7,630.8 L1526.0,629.6 L1518.5,624.6 Z" fill="#3a3a3a" stroke="#2e2e2e" stroke-width="1" stroke-linejoin="round" /><path d="M1548.0,660.0 L1572.0,668.0 L1580.0,700.0 L1575.0,716.0 L1560.0,722.0 L1552.0,718.0 L1546.0,700.0 Z" fill="#353535" stroke="none" stroke-width="1" stroke-linejoin="round" /><circle cx="1538" cy="659" r="7.5" fill="#363636"/><circle cx="1538" cy="659" r="3" fill="#2a2a2a"/><circle cx="1556" cy="707" r="7.5" fill="#363636"/><circle cx="1556" cy="707" r="3" fill="#2a2a2a"/><path d="M1569.0,627.7 L1581.5,626.5 L1597.5,641.9 L1603.7,659.2 L1611.0,679.0 L1614.8,693.8 L1613.6,716.0 L1598.8,722.2 L1593.8,721.0 L1589.0,713.5 L1574.0,713.5 L1569.0,702.4 L1579.0,698.7 L1574.0,670.3 L1556.8,666.6 L1551.9,656.7 L1558.0,651.8 L1566.7,651.8 L1566.7,632.0 Z" fill="#97a4a9" stroke="#5f686c" stroke-width="1" stroke-linejoin="round" /><circle cx="1561.5" cy="659.5" r="4.5" fill="#b4bec2" stroke="#444"/><circle cx="1561.5" cy="659.5" r="2" fill="#333"/><circle cx="1577.5" cy="706" r="5" fill="#b4bec2" stroke="#444"/><circle cx="1577.5" cy="706" r="2.2" fill="#333"/><rect x="1564" y="633" width="5" height="16" fill="#55606a"/><path d="M1567,673 L1575,690" stroke="#6f7a80" stroke-width="3"/><path d="M1300.4,586.0 L1307.2,582.3 L1312.1,584.8 L1315.8,589.7 L1320.7,587.2 L1320.7,576.1 L1329.4,574.3 L1331.9,577.3 L1334.3,586.0 L1349.1,597.1 L1360.2,608.2 L1366.4,620.6 L1370.1,634.1 L1376.3,651.4 L1378.8,663.8 L1377.5,681.0 L1373.8,687.2 L1359.0,692.2 L1354.0,690.9 L1344.2,690.9 L1334.3,689.7 L1331.9,682.3 L1329.4,663.8 L1328.1,639.0 L1319.5,636.6 L1314.6,614.4 L1314.6,599.6 L1305.9,595.9 L1301.0,592.2 Z" fill="#404040" stroke="#2e2e2e" stroke-width="1" stroke-linejoin="round" /><path d="M1303.5,600.8 L1314.6,600.8 L1314.6,634.0 L1309.6,639.0 L1312.0,651.4 L1319.5,663.8 L1327.0,667.5 L1327.0,682.3 L1317.0,683.5 L1308.4,678.6 L1307.2,671.2 L1309.6,663.8 L1308.4,651.4 L1302.2,641.5 L1293.6,636.6 L1291.1,626.7 L1293.6,621.8 L1302.2,619.3 L1304.7,614.4 Z" fill="#a5afb3" stroke="#5a6266" stroke-width="1" stroke-linejoin="round" /><rect x="1306" y="602" width="3" height="15" fill="#55606a"/><rect x="1312" y="601" width="3" height="17" fill="#6a757b"/><circle cx="1301.5" cy="628.5" r="3.5" fill="#cfd5d8" stroke="#333"/><circle cx="1318" cy="675" r="4" fill="#cfd5d8" stroke="#333"/><circle cx="1323" cy="628" r="5" fill="#363636"/><circle cx="1340" cy="675" r="5" fill="#363636"/><path d="M1316,640 L1324,664" stroke="#7d878c" stroke-width="3"/><rect x="1330" y="643" width="6" height="22" fill="#353535"/><path d="M1334,688 L1352,690" stroke="#7a858a" stroke-width="3"/>
<path d="M1176,706 L1195,704 L1196,716 L1178,716 Z" fill="#444"/><path d="M1172,700 l4,0 M1172,704 l5,0 M1172,708 l4,0 M1172,712 l5,0" stroke="#666" stroke-width="1.5"/><rect x="1192" y="676" width="62" height="20" rx="9" fill="#393939" stroke="#2a2a2a"/><rect x="1250" y="682" width="22" height="8" rx="3" fill="#404040"/><circle cx="1200" cy="706" r="9" fill="#383838" stroke="#2a2a2a"/><path d="M1196.0,712.0 L1226.7,704.0 L1288.5,703.3 L1310.7,703.3 L1313.2,713.2 L1328.0,745.3 L1330.5,782.4 L1342.9,787.3 L1340.4,807.0 L1323.0,817.0 L1258.8,822.0 L1246.5,807.0 L1234.0,782.4 L1216.8,738.0 L1214.4,728.0 L1198.0,720.0 Z" fill="#3b3b3b" stroke="#2e2e2e" stroke-width="1" stroke-linejoin="round" /><path d="M1222.0,712.0 L1288.0,706.0 L1310.0,706.0 L1296.0,718.0 L1232.0,722.0 Z" fill="#444" stroke="none" stroke-width="1" stroke-linejoin="round" /><path d="M1288.0,714.0 L1300.0,712.0 L1326.0,760.0 L1328.0,800.0 L1318.0,812.0 L1306.0,812.0 L1300.0,770.0 Z" fill="#333" stroke="none" stroke-width="1" stroke-linejoin="round" /><path d="M1228,752 L1296,748 M1245,800 L1306,797" stroke="#2c2c2c" stroke-width="1.5"/><circle cx="1218" cy="730" r="7" fill="#383838"/><circle cx="1236" cy="778" r="7" fill="#383838"/><circle cx="1302" cy="735" r="2.5" fill="#2a2a2a"/><circle cx="1316" cy="780" r="2.5" fill="#2a2a2a"/><rect x="1310" y="728" width="8" height="12" fill="#666"/><rect x="1402" y="683" width="15" height="8" rx="3" fill="#777"/><rect x="1410" y="677" width="71" height="20" rx="9" fill="#393939" stroke="#2a2a2a"/><ellipse cx="1473" cy="687" rx="7" ry="10" fill="#333"/><path d="M1367.6,713.2 L1377.4,705.8 L1419.4,703.3 L1456.5,700.8 L1481.2,698.4 L1501.0,705.8 L1511.0,720.6 L1515.8,728.0 L1528.0,733.0 L1528.0,742.8 L1520.8,747.8 L1523.2,770.0 L1518.3,782.4 L1515.8,807.0 L1498.5,817.0 L1407.0,822.0 L1397.0,807.0 L1382.4,782.4 L1372.5,738.0 L1367.6,723.0 Z" fill="#3b3b3b" stroke="#2e2e2e" stroke-width="1" stroke-linejoin="round" /><path d="M1372.0,712.0 L1430.0,706.0 L1430.0,722.0 L1376.0,726.0 Z" fill="#444" stroke="none" stroke-width="1" stroke-linejoin="round" /><path d="M1430.0,706.0 L1460.0,703.0 L1495.0,708.0 L1500.0,720.0 L1480.0,725.0 L1435.0,728.0 Z" fill="#353535" stroke="none" stroke-width="1" stroke-linejoin="round" /><circle cx="1467" cy="710" r="8" fill="#3a3a3a" stroke="#2a2a2a"/><circle cx="1467" cy="710" r="3" fill="#555"/><path d="M1436.0,730.0 L1470.0,728.0 L1490.0,790.0 L1480.0,815.0 L1452.0,818.0 L1440.0,780.0 Z" fill="#333" stroke="none" stroke-width="1" stroke-linejoin="round" /><circle cx="1448" cy="730" r="7" fill="#3e3e3e"/><circle cx="1478" cy="778" r="9" fill="#3a3a3a"/><circle cx="1522" cy="737" r="7" fill="#3a3a3a"/><path d="M1383,752 L1432,748 M1396,800 L1440,797" stroke="#2c2c2c" stroke-width="1.5"/><path d="M709.7,833.7 C711.4,828.6 713.6,825.6 717.4,823.5 C721.2,821.4 727.6,821.0 732.7,821.0 C737.8,821.0 744.6,820.5 748.0,823.5 C751.4,826.5 751.9,830.9 753.2,839.0 C754.5,847.1 755.8,860.1 755.8,872.0 C755.8,883.9 754.1,899.9 753.2,910.6 C752.4,921.3 753.7,930.0 750.7,936.0 C747.7,942.0 746.4,943.9 735.3,946.5 C724.2,949.1 699.0,952.0 684.0,951.6 C669.0,951.2 654.6,947.0 645.6,944.0 C636.6,941.0 633.2,937.5 630.2,933.6 C627.2,929.7 626.8,924.6 627.7,920.8 C628.6,917.0 629.0,913.6 635.4,910.6 C641.8,907.6 657.0,906.4 666.0,903.0 C675.0,899.6 683.2,895.2 689.2,890.0 C695.2,884.8 699.0,878.0 702.0,872.0 C705.0,866.0 705.7,860.4 707.0,854.0 C708.3,847.6 708.0,838.8 709.7,833.7 Z" fill="#303030" stroke="#222" stroke-width="1"/><path d="M713,830 Q730,826 748,830 L752,870 Q735,874 716,868 Z" fill="#3e3e3e" opacity="0.7"/><ellipse cx="734" cy="866.5" rx="6.5" ry="8" fill="#454545"/><ellipse cx="734" cy="866" rx="3.2" ry="5" fill="#fff"/><ellipse cx="671" cy="925" rx="11" ry="6" fill="#2c2c2c" transform="rotate(-10 671 925)"/><path d="M722,878 Q718,915 700,948" stroke="#444" stroke-width="1" fill="none"/><rect x="877.5" y="765.8" width="28" height="7.7" rx="1" fill="#3e3e3e" stroke="#2a2a2a"/><rect x="882" y="773" width="19" height="30" fill="#444" stroke="#2e2e2e"/><ellipse cx="892" cy="814" rx="18.5" ry="13.5" fill="#3a3a3a" stroke="#2a2a2a"/><ellipse cx="894" cy="813" rx="10" ry="9" fill="#444"/><circle cx="894" cy="813" r="4" fill="#3a3a3a"/><path d="M871.0,931.1 L877.6,925.8 L922.6,857.0 L938.5,846.5 L954.4,846.5 L1092.0,870.3 L1216.3,851.8 L1242.8,842.5 L1253.4,845.1 L1256.0,854.4 L1248.0,863.7 L1229.6,870.3 L1094.6,899.4 L1078.7,898.0 L951.7,882.2 L941.0,884.8 L888.2,941.7 L880.3,944.4 L871.0,939.0 Z" fill="#393939" stroke="#2e2e2e" stroke-width="1" stroke-linejoin="round" /><path d="M955.0,848.0 L1092.0,872.0 L1094.0,897.0 L952.0,880.0 Z" fill="#3d3d3d" stroke="none" stroke-width="1" stroke-linejoin="round" /><path d="M1092,871 L1094,898" stroke="#444" stroke-width="3"/><path d="M1230,851 L1232,869" stroke="#444" stroke-width="2"/><circle cx="1245" cy="856" r="1.5" fill="#bbb"/><circle cx="936" cy="860" r="1" fill="#bbb"/><path d="M846,918 L874,925" stroke="#2e2e2e" stroke-width="9" stroke-linecap="round"/><path d="M846,917.5 L874,924.5" stroke="#4a4a4a" stroke-width="6" stroke-linecap="round"/><ellipse cx="899" cy="873" rx="10" ry="12" fill="#3a3a3a" stroke="#2a2a2a"/><ellipse cx="926" cy="878" rx="8" ry="10" fill="#333"/><g transform="translate(1302.5,902.5) rotate(29.0)"><rect x="-40.0" y="-12.0" width="80.0" height="24.0" rx="10.4" fill="#434343" stroke="#2a2a2a" stroke-width="1"/><rect x="-32.8" y="-9.1" width="65.6" height="5.3" rx="2.4" fill="#545454" opacity="0.55"/><path d="M-21.5,-11.5 Q-14.3,0 -21.5,11.5" stroke="#262626" stroke-width="1.6" fill="none"/><path d="M-12.2,-11.5 Q-5.0,0 -12.2,11.5" stroke="#262626" stroke-width="1.6" fill="none"/><path d="M-2.9,-11.5 Q4.3,0 -2.9,11.5" stroke="#262626" stroke-width="1.6" fill="none"/><path d="M6.5,-11.5 Q13.7,0 6.5,11.5" stroke="#262626" stroke-width="1.6" fill="none"/><path d="M15.8,-11.5 Q23.0,0 15.8,11.5" stroke="#262626" stroke-width="1.6" fill="none"/><ellipse cx="34.0" cy="0" rx="6.0" ry="11.5" fill="#3c3c3c" stroke="#2a2a2a" stroke-width="1"/></g><rect x="641.4" y="698.4" width="226" height="111" rx="29.5" ry="16.5" fill="none" stroke="#ec1c24" stroke-width="4.4"/><ellipse cx="684.7" cy="746.7" rx="20.8" ry="16" fill="#2b2b2b" stroke="#222"/><ellipse cx="687.2" cy="746.5" rx="15" ry="14" fill="#343434"/><ellipse cx="684.2" cy="747.2" rx="8.2" ry="11" fill="#fff"/><ellipse cx="732.0" cy="746.7" rx="20.8" ry="16" fill="#2b2b2b" stroke="#222"/><ellipse cx="734.5" cy="746.5" rx="15" ry="14" fill="#343434"/><ellipse cx="731.5" cy="747.2" rx="8.2" ry="11" fill="#fff"/><ellipse cx="783.0" cy="746.7" rx="20.8" ry="16" fill="#2b2b2b" stroke="#222"/><ellipse cx="785.5" cy="746.5" rx="15" ry="14" fill="#343434"/><ellipse cx="782.5" cy="747.2" rx="8.2" ry="11" fill="#fff"/><ellipse cx="836.0" cy="746.7" rx="20.8" ry="16" fill="#2b2b2b" stroke="#222"/><ellipse cx="838.5" cy="746.5" rx="15" ry="14" fill="#343434"/><ellipse cx="835.5" cy="747.2" rx="8.2" ry="11" fill="#fff"/><g transform="translate(741,783.7)"><rect x="-59.5" y="-16" width="119" height="32" rx="15" fill="#333" stroke="#262626"/><path d="M-46.0,-15.5 Q-41.0,0 -46.0,15.5" stroke="#262626" stroke-width="1.3" fill="none"/><path d="M-39.0,-15.5 Q-34.0,0 -39.0,15.5" stroke="#262626" stroke-width="1.3" fill="none"/><path d="M-32.0,-15.5 Q-27.0,0 -32.0,15.5" stroke="#262626" stroke-width="1.3" fill="none"/><path d="M-25.0,-15.5 Q-20.0,0 -25.0,15.5" stroke="#262626" stroke-width="1.3" fill="none"/><path d="M-18.0,-15.5 Q-13.0,0 -18.0,15.5" stroke="#262626" stroke-width="1.3" fill="none"/><path d="M-11.0,-15.5 Q-6.0,0 -11.0,15.5" stroke="#262626" stroke-width="1.3" fill="none"/><path d="M-4.0,-15.5 Q1.0,0 -4.0,15.5" stroke="#262626" stroke-width="1.3" fill="none"/><path d="M3.0,-15.5 Q8.0,0 3.0,15.5" stroke="#262626" stroke-width="1.3" fill="none"/><path d="M10.0,-15.5 Q15.0,0 10.0,15.5" stroke="#262626" stroke-width="1.3" fill="none"/><path d="M17.0,-15.5 Q22.0,0 17.0,15.5" stroke="#262626" stroke-width="1.3" fill="none"/><path d="M24.0,-15.5 Q29.0,0 24.0,15.5" stroke="#262626" stroke-width="1.3" fill="none"/><ellipse cx="45" cy="0" rx="14" ry="15" fill="#434343" stroke="#2a2a2a"/></g>
<line x1="512.9" y1="114.5" x2="512.9" y2="254.0" stroke="#505050" stroke-width="1.5"/><line x1="597.4" y1="114.5" x2="597.4" y2="229.0" stroke="#505050" stroke-width="1.5"/><line x1="744.4" y1="114.5" x2="744.4" y2="330.0" stroke="#505050" stroke-width="1.5"/><line x1="808.5" y1="114.5" x2="808.5" y2="213.0" stroke="#505050" stroke-width="1.5"/><line x1="884.2" y1="114.5" x2="884.2" y2="300.0" stroke="#505050" stroke-width="1.5"/><line x1="1078.6" y1="114.5" x2="1078.6" y2="242.0" stroke="#505050" stroke-width="1.5"/><line x1="1468.2" y1="114.5" x2="1468.2" y2="168.0" stroke="#505050" stroke-width="1.5"/><line x1="1414.0" y1="251.0" x2="1805.5" y2="251.0" stroke="#505050" stroke-width="1.5"/><line x1="1489.5" y1="511.3" x2="1805.0" y2="511.3" stroke="#505050" stroke-width="1.5"/><line x1="1667.0" y1="605.5" x2="1805.0" y2="605.5" stroke="#505050" stroke-width="1.5"/><line x1="1583.0" y1="667.3" x2="1805.0" y2="667.3" stroke="#505050" stroke-width="1.5"/><line x1="1262.5" y1="633.0" x2="1344.0" y2="633.0" stroke="#505050" stroke-width="1.5"/><line x1="1112.4" y1="889.3" x2="1112.4" y2="1001.3" stroke="#505050" stroke-width="1.5"/><line x1="1017.4" y1="838.5" x2="1017.4" y2="898.0" stroke="#505050" stroke-width="1.5"/><line x1="887.0" y1="813.0" x2="887.0" y2="1001.3" stroke="#505050" stroke-width="1.5"/><line x1="723.9" y1="890.0" x2="723.9" y2="1000.9" stroke="#505050" stroke-width="1.5"/><line x1="218.5" y1="719.4" x2="406.5" y2="719.4" stroke="#505050" stroke-width="1.5"/><line x1="218.5" y1="609.4" x2="349.6" y2="609.4" stroke="#505050" stroke-width="1.5"/><line x1="680.8" y1="507.4" x2="680.8" y2="523.4" stroke="#505050" stroke-width="1.5"/><line x1="1010.0" y1="329.8" x2="1155.5" y2="329.8" stroke="#505050" stroke-width="1.5"/><line x1="950.4" y1="531.4" x2="1086.0" y2="531.4" stroke="#505050" stroke-width="1.5"/>
<path d="M513,374 v4 M513,381 v3 M513,387 v6" stroke="#666" stroke-width="1.2"/><path d="M1336.8,306 v8" stroke="#777" stroke-width="1.2"/>
<path d="M513.20,88.50 L514.70,88.50 L514.70,114.10 L510.80,114.10 L510.80,95.30 Q506.80,95.50 502.80,97.50 L502.80,95.50 Q508.30,92.70 513.20,88.50 Z" fill="#111"/><path d="M1816.20,236.10 L1817.70,236.10 L1817.70,261.70 L1813.80,261.70 L1813.80,242.90 Q1809.80,243.10 1805.80,245.10 L1805.80,243.10 Q1811.30,240.30 1816.20,236.10 Z" fill="#111"/><path d="M1816.20,498.40 L1817.70,498.40 L1817.70,524.00 L1813.80,524.00 L1813.80,505.20 Q1809.80,505.40 1805.80,507.40 L1805.80,505.40 Q1811.30,502.60 1816.20,498.40 Z" fill="#111"/><path d="M1816.20,590.10 L1817.70,590.10 L1817.70,615.70 L1813.80,615.70 L1813.80,596.90 Q1809.80,597.10 1805.80,599.10 L1805.80,597.10 Q1811.30,594.30 1816.20,590.10 Z" fill="#111"/><path d="M1816.20,651.00 L1817.70,651.00 L1817.70,676.60 L1813.80,676.60 L1813.80,657.80 Q1809.80,658.00 1805.80,660.00 L1805.80,658.00 Q1811.30,655.20 1816.20,651.00 Z" fill="#111"/><path d="M1227.20,619.60 L1228.70,619.60 L1228.70,645.20 L1224.80,645.20 L1224.80,626.40 Q1220.80,626.60 1216.80,628.60 L1216.80,626.60 Q1222.30,623.80 1227.20,619.60 Z" fill="#111"/><path d="M1102.50,1002.10 L1104.00,1002.10 L1104.00,1027.70 L1100.10,1027.70 L1100.10,1008.90 Q1096.10,1009.10 1092.10,1011.10 L1092.10,1009.10 Q1097.60,1006.30 1102.50,1002.10 Z" fill="#111"/><path d="M741.10,1001.90 L742.60,1001.90 L742.60,1027.50 L738.70,1027.50 L738.70,1008.70 Q734.70,1008.90 730.70,1010.90 L730.70,1008.90 Q736.20,1006.10 741.10,1001.90 Z" fill="#111"/>
<text transform="matrix(1.2670,0,0,1.0104,585.78,113.77)" font-size="36.5" fill="#111">2</text><text transform="matrix(1.2537,0,0,0.9952,732.52,113.56)" font-size="36.5" fill="#111">3</text><text transform="matrix(1.1413,0,0,1.0238,794.67,113.78)" font-size="36.5" fill="#111">4</text><text transform="matrix(1.2393,0,0,1.0147,871.93,113.55)" font-size="36.5" fill="#111">5</text><text transform="matrix(1.2406,0,0,0.9957,1066.36,113.56)" font-size="36.5" fill="#111">8</text><text transform="matrix(1.2570,0,0,1.0026,1457.02,113.55)" font-size="36.5" fill="#111">9</text><text transform="matrix(1.2102,0,0,0.9978,1828.28,261.68)" font-size="36.5" fill="#111">0</text><text transform="matrix(1.2366,0,0,1.0029,1828.08,524.06)" font-size="36.5" fill="#111">3</text><text transform="matrix(1.1465,0,0,1.0238,1829.05,615.76)" font-size="36.5" fill="#111">4</text><text transform="matrix(1.2304,0,0,1.0147,1827.92,676.04)" font-size="36.5" fill="#111">5</text><text transform="matrix(1.2524,0,0,1.0020,1238.60,645.06)" font-size="36.5" fill="#111">6</text><text transform="matrix(1.2865,0,0,1.0238,1113.65,1027.76)" font-size="36.5" fill="#111">7</text><text transform="matrix(1.2663,0,0,1.0113,857.99,1027.76)" font-size="36.5" fill="#111">2</text><text transform="matrix(1.2277,0,0,0.9998,886.22,1027.70)" font-size="36.5" fill="#111">0</text><text transform="matrix(1.2677,0,0,1.0116,696.99,1027.75)" font-size="36.5" fill="#111">2</text><text transform="matrix(1.2670,0,0,1.0104,166.78,729.78)" font-size="36.5" fill="#111">2</text><text transform="matrix(1.1504,0,0,1.0238,196.12,729.78)" font-size="36.5" fill="#111">4</text><text transform="matrix(1.2670,0,0,1.0104,166.78,621.78)" font-size="36.5" fill="#111">2</text><text transform="matrix(1.2317,0,0,1.0147,195.33,621.56)" font-size="36.5" fill="#111">5</text><text transform="matrix(1.2735,0,0,1.0112,653.62,506.27)" font-size="36.5" fill="#111">2</text><text transform="matrix(1.2667,0,0,1.0238,681.49,506.27)" font-size="36.5" fill="#111">7</text><text transform="matrix(1.2677,0,0,1.0116,1153.99,340.77)" font-size="36.5" fill="#111">2</text><text transform="matrix(1.2422,0,0,0.9939,1182.06,340.56)" font-size="36.5" fill="#111">8</text><text transform="matrix(1.2735,0,0,1.0112,1084.62,543.78)" font-size="36.5" fill="#111">2</text><text transform="matrix(1.2513,0,0,1.0029,1112.67,543.56)" font-size="36.5" fill="#111">9</text>
</svg>
</body></html>
